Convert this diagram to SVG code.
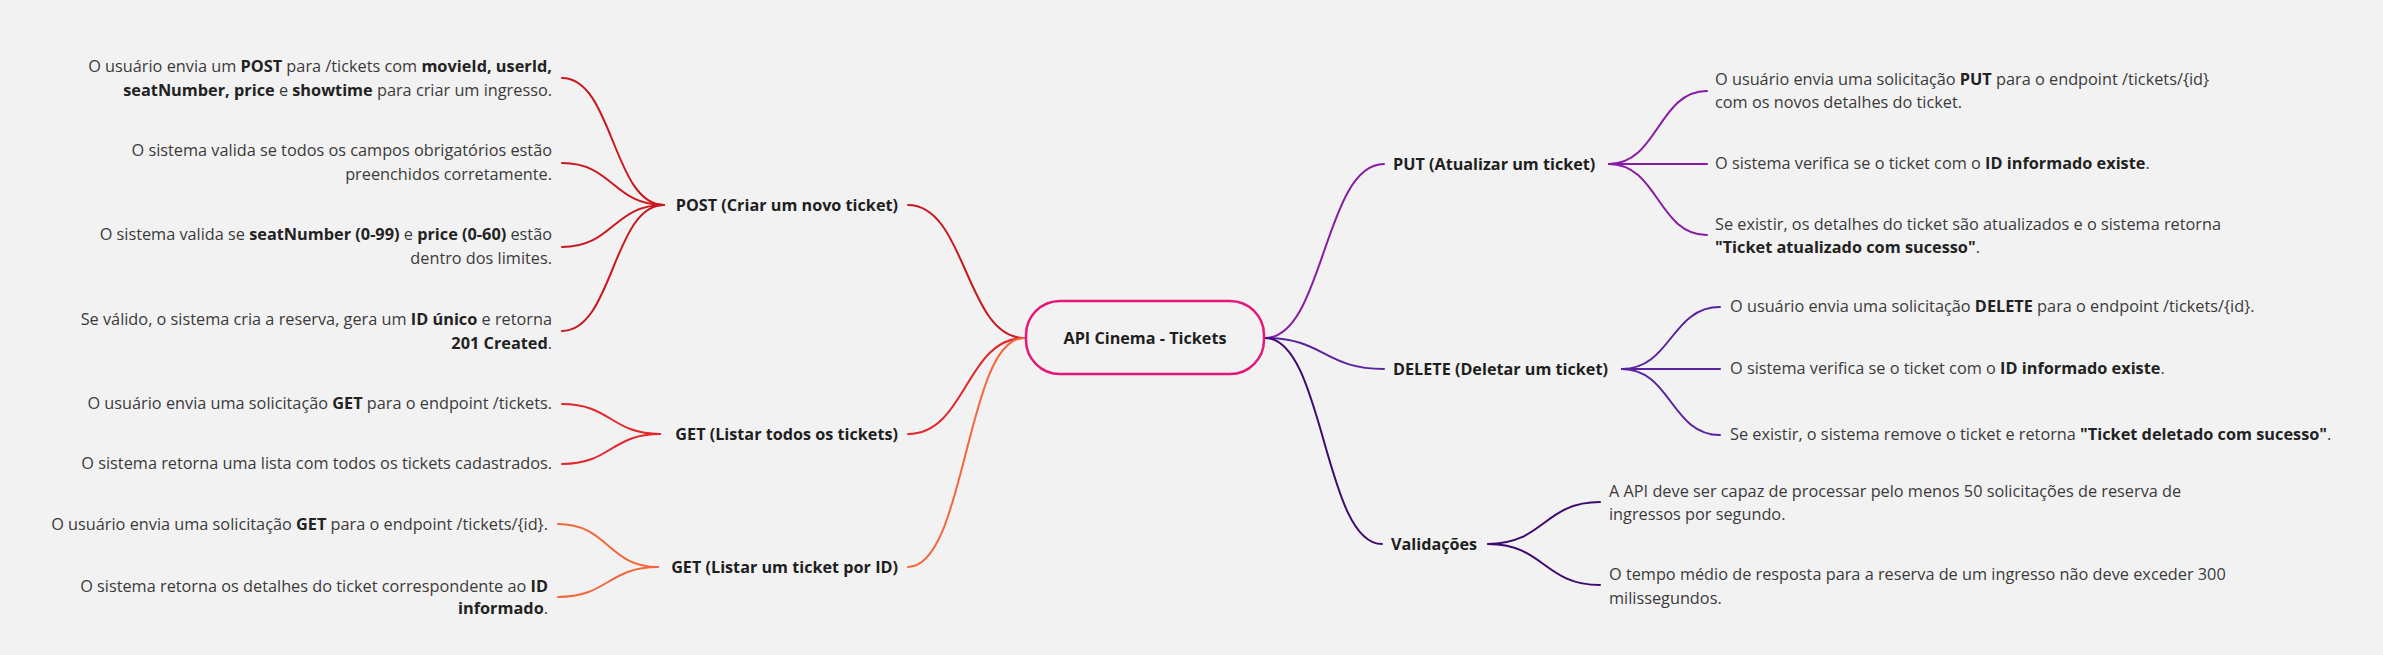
<svg xmlns="http://www.w3.org/2000/svg" width="2383" height="655" viewBox="0 0 2383 655">
<style>
text{font-family:"Open Sans","Noto Sans","Liberation Sans",sans-serif;}
.leaf{font-size:16.3px;fill:#3a3a3a;}
.leaf .b{font-weight:700;fill:#222;}
.node{font-size:16.2px;font-weight:700;fill:#1e1e1e;}
.c{fill:none;stroke-width:2;stroke-linecap:round;}
.post{stroke:#c8191f;}
.gall{stroke:#df272c;}
.gid{stroke:#f2673b;}
.put{stroke:#8a1aa6;}
.del{stroke:#5b22a0;}
.val{stroke:#3e0a6e;}
</style>
<rect x="0" y="0" width="2383" height="655" fill="#f2f2f2"/>
<g id="connectors">
<path class="c post" d="M1024,338 C966,338 966,205 908,205"/>
<path class="c gall" d="M1024,338 C966,338 966,434 908,434"/>
<path class="c gid" d="M1024,338 C966,338 966,567 908,567"/>
<path class="c put" d="M1265,338 C1324,338 1324,164 1384,164"/>
<path class="c del" d="M1265,338 C1324,338 1324,369 1384,369"/>
<path class="c val" d="M1265,338 C1324,338 1324,544 1382,544"/>
<path class="c post" d="M664,205 C613,205 613,78 562,78"/>
<path class="c post" d="M664,205 C613,205 613,163 562,163"/>
<path class="c post" d="M664,205 C613,205 613,247 562,247"/>
<path class="c post" d="M664,205 C613,205 613,331 562,331"/>
<path class="c gall" d="M660,434 C611,434 611,404 562,404"/>
<path class="c gall" d="M660,434 C611,434 611,464 562,464"/>
<path class="c gid" d="M658,567 C608,567 608,524 558,524"/>
<path class="c gid" d="M658,567 C608,567 608,597 558,597"/>
<path class="c put" d="M1609,164 C1658,164 1658,91 1707,91"/>
<path class="c put" d="M1609,164 L1707,164"/>
<path class="c put" d="M1609,164 C1658,164 1658,235 1707,235"/>
<path class="c del" d="M1622,369 C1671,369 1671,307 1720,307"/>
<path class="c del" d="M1622,369 L1720,369"/>
<path class="c del" d="M1622,369 C1671,369 1671,435 1720,435"/>
<path class="c val" d="M1488,544 C1544,544 1544,502 1600,502"/>
<path class="c val" d="M1488,544 C1544,544 1544,585 1600,585"/>
</g>
<g id="center">
<rect x="1026" y="301" width="238" height="73" rx="34" fill="#f2f2f2" stroke="#e5177b" stroke-width="2.5"/>
<text class="node" x="1145" y="344" text-anchor="middle">API Cinema - Tickets</text>
</g>
<g id="post">
<text class="node" x="898" y="211" text-anchor="end">POST (Criar um novo ticket)</text>
</g>
<g id="post-1">
<text class="leaf" x="552" y="72" text-anchor="end">O usuário envia um <tspan class="b">POST</tspan> para /tickets com <tspan class="b">movieId, userId,</tspan></text>
<text class="leaf" x="552" y="96" text-anchor="end"><tspan class="b">seatNumber, price</tspan> e <tspan class="b">showtime</tspan> para criar um ingresso.</text>
</g>
<g id="post-2">
<text class="leaf" x="552" y="156" text-anchor="end">O sistema valida se todos os campos obrigatórios estão</text>
<text class="leaf" x="552" y="180" text-anchor="end">preenchidos corretamente.</text>
</g>
<g id="post-3">
<text class="leaf" x="552" y="240" text-anchor="end">O sistema valida se <tspan class="b">seatNumber (0-99)</tspan> e <tspan class="b">price (0-60)</tspan> estão</text>
<text class="leaf" x="552" y="264" text-anchor="end">dentro dos limites.</text>
</g>
<g id="post-4">
<text class="leaf" x="552" y="325" text-anchor="end">Se válido, o sistema cria a reserva, gera um <tspan class="b">ID único</tspan> e retorna</text>
<text class="leaf" x="552" y="349" text-anchor="end"><tspan class="b">201 Created</tspan>.</text>
</g>
<g id="get-all">
<text class="node" x="898" y="440" text-anchor="end">GET (Listar todos os tickets)</text>
</g>
<g id="get-all-1">
<text class="leaf" x="552" y="409" text-anchor="end">O usuário envia uma solicitação <tspan class="b">GET</tspan> para o endpoint /tickets.</text>
</g>
<g id="get-all-2">
<text class="leaf" x="552" y="469" text-anchor="end">O sistema retorna uma lista com todos os tickets cadastrados.</text>
</g>
<g id="get-id">
<text class="node" x="898" y="573" text-anchor="end">GET (Listar um ticket por ID)</text>
</g>
<g id="get-id-1">
<text class="leaf" x="548" y="530" text-anchor="end">O usuário envia uma solicitação <tspan class="b">GET</tspan> para o endpoint /tickets/{id}.</text>
</g>
<g id="get-id-2">
<text class="leaf" x="548" y="592" text-anchor="end">O sistema retorna os detalhes do ticket correspondente ao <tspan class="b">ID</tspan></text>
<text class="leaf" x="548" y="614" text-anchor="end"><tspan class="b">informado</tspan>.</text>
</g>
<g id="put">
<text class="node" x="1393" y="170">PUT (Atualizar um ticket)</text>
</g>
<g id="put-1">
<text class="leaf" x="1715" y="85">O usuário envia uma solicitação <tspan class="b">PUT</tspan> para o endpoint /tickets/{id}</text>
<text class="leaf" x="1715" y="108">com os novos detalhes do ticket.</text>
</g>
<g id="put-2">
<text class="leaf" x="1715" y="169">O sistema verifica se o ticket com o <tspan class="b">ID informado existe</tspan>.</text>
</g>
<g id="put-3">
<text class="leaf" x="1715" y="230">Se existir, os detalhes do ticket são atualizados e o sistema retorna</text>
<text class="leaf" x="1715" y="253"><tspan class="b">"Ticket atualizado com sucesso"</tspan>.</text>
</g>
<g id="delete">
<text class="node" x="1393" y="375">DELETE (Deletar um ticket)</text>
</g>
<g id="delete-1">
<text class="leaf" x="1730" y="312">O usuário envia uma solicitação <tspan class="b">DELETE</tspan> para o endpoint /tickets/{id}.</text>
</g>
<g id="delete-2">
<text class="leaf" x="1730" y="374">O sistema verifica se o ticket com o <tspan class="b">ID informado existe</tspan>.</text>
</g>
<g id="delete-3">
<text class="leaf" x="1730" y="440">Se existir, o sistema remove o ticket e retorna <tspan class="b">"Ticket deletado com sucesso"</tspan>.</text>
</g>
<g id="validacoes">
<text class="node" x="1391" y="550">Validações</text>
</g>
<g id="validacoes-1">
<text class="leaf" x="1609" y="497">A API deve ser capaz de processar pelo menos 50 solicitações de reserva de</text>
<text class="leaf" x="1609" y="520">ingressos por segundo.</text>
</g>
<g id="validacoes-2">
<text class="leaf" x="1609" y="580">O tempo médio de resposta para a reserva de um ingresso não deve exceder 300</text>
<text class="leaf" x="1609" y="604">milissegundos.</text>
</g>
</svg>
